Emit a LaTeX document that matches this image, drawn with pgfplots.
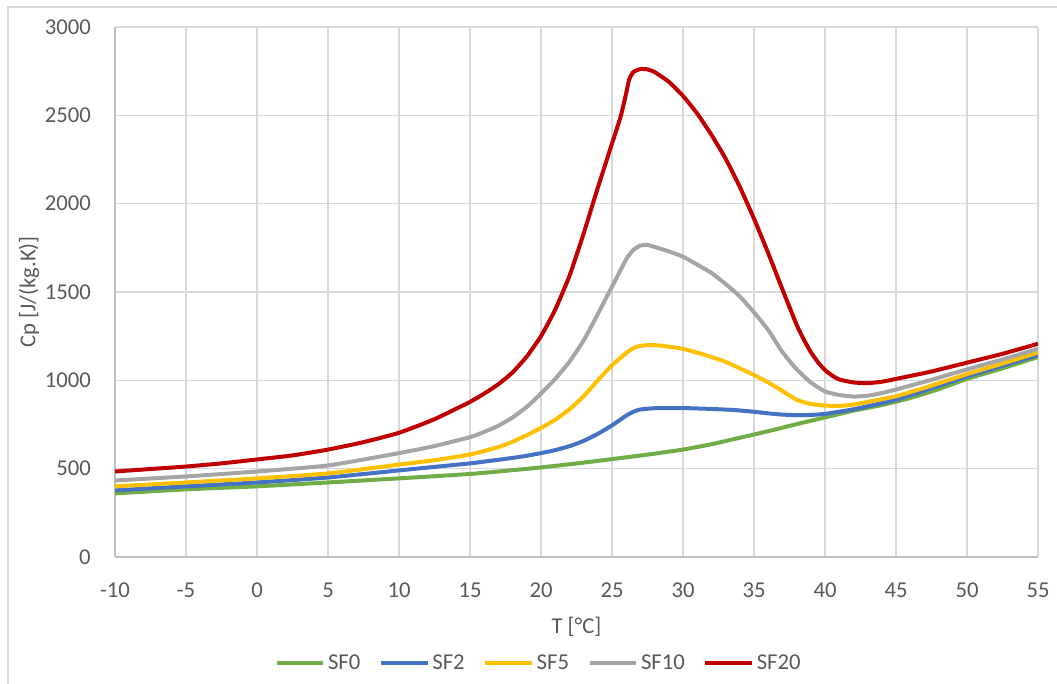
\documentclass[border=0pt]{standalone}
\usepackage{fontspec}
\setmainfont{Carlito}
\usepackage{pgfplots}
\pgfplotsset{compat=1.18}
\usepackage{pgfplotstable}

\definecolor{cGreen}{HTML}{70AD47}
\definecolor{cBlue}{HTML}{4472C4}
\definecolor{cYellow}{HTML}{FFC000}
\definecolor{cGray}{HTML}{A5A5A5}
\definecolor{cRed}{HTML}{C00000}
\definecolor{cGrid}{HTML}{D9D9D9}
\definecolor{cAxis}{HTML}{BFBFBF}
\definecolor{cText}{HTML}{595959}

% Specific heat of the samples, T [°C] vs Cp [J/(kg.K)]
\pgfplotstableread{
T Cp
-10 360
-5 383
0 400
5 422
10 445
15 470
17 484
20 507
22 525
24 544
26 564
28 585
30 608
32 638
34 675
36 712
38 752
40 790
42 828
44 860
46 900
48 950
50 1008
52.5 1068
55 1132
}\sfzero

\pgfplotstableread{
T Cp
-10 377
-5 400
0 422
5 450
10 490
15 530
16 540
17 550
18 561
19 573
20 588
21 605
22 627
23 657
24 697
25 745
26 800
26.5 822
27 835
28 842
30 843
32 838
33.6 832
35 822
36 813
37 806
38 803
39 804
40 810
42 836
45 890
47.5 955
50 1022
52.5 1082
55 1143
}\sftwo

\pgfplotstableread{
T Cp
-10 400
-5 422
0 445
5 473
10 523
12.5 548
15 580
17 622
18 652
19 690
20 730
21 777
22 835
23 910
24 1000
25 1085
26 1155
26.5 1182
27 1195
27.7 1200
28.5 1196
30 1178
31.5 1145
33 1105
34 1068
35 1030
36 988
36.9 945
38 890
39 866
40 857
41 855
42 862
43 878
45 910
47.5 970
50 1035
52.5 1095
55 1157
}\sffive

\pgfplotstableread{
T Cp
-10 433
-5 456
0 484
5 518
10 588
12.5 628
15 678
16 708
17 743
18 790
19 850
20 925
21 1008
22 1105
23 1225
24 1375
25 1530
26 1685
26.5 1738
27 1763
27.5 1766
28 1755
29 1730
30 1700
31 1655
32 1608
33 1545
34 1475
35 1385
36 1285
37 1160
38 1063
39 988
40 937
41 917
42 908
43 913
44 928
45 948
47.5 1003
50 1062
52.5 1118
55 1178
}\sften

\pgfplotstableread{
T Cp
-10 484
-7.5 498
-5 512
-2.5 530
0 552
2.5 575
5 608
7.5 650
10 703
12.5 780
15 878
16 925
17 978
18 1045
19 1135
20 1250
21 1400
22 1590
23 1830
24 2090
25 2340
25.6 2490
26 2625
26.2 2700
26.5 2745
27 2762
27.5 2760
28 2745
29 2690
30 2610
31 2510
32 2390
33 2255
34 2095
35 1915
36 1720
37 1515
38 1315
38.5 1232
39 1160
39.5 1103
40 1058
40.5 1027
41 1005
42 988
43 984
44 992
45 1008
47.5 1050
50 1100
52.5 1150
55 1207
}\sftwenty

\begin{document}
\begin{tikzpicture}[font=\fontsize{17}{20}\selectfont]
\path[use as bounding box] (-86.25pt,-95.25pt) rectangle (706.5pt,417.75pt);
% chart frame
\draw[cGrid, line width=1.2pt] (-80.25pt,-96pt) -- (-80.25pt,412.5pt) -- (707pt,412.5pt);
\begin{axis}[
  at={(0,0)}, anchor=south west,
  scale only axis,
  width=692.25pt, height=397.5pt,
  xmin=-10, xmax=55, ymin=0, ymax=3000,
  xtick={-10,-5,...,55},
  ytick={0,500,...,3000},
  axis x line*=bottom, axis y line*=left,
  axis line style={cAxis, line width=1.1pt},
  major tick length=0pt,
  grid=major,
  major grid style={cGrid, line width=1.1pt},
  tick label style={text=cText},
  /pgf/number format/assume math mode=true,
  /pgf/number format/.cd, 1000 sep={}, /pgfplots/.cd,
  yticklabel style={anchor=east, inner sep=0pt, xshift=-18pt},
  xticklabel style={anchor=north, inner sep=0pt, yshift=-19pt},
  xlabel={T [°C]},
  ylabel={Cp [J/(kg.K)]},
  label style={text=cText},
  xlabel style={at={(axis description cs:0.5,-0.131)}, anchor=center},
  ylabel style={at={(axis description cs:-0.0932,0.5)}, anchor=center},
  legend columns=5,
  legend style={at={(0.4594,-0.2)}, anchor=center, draw=none, fill=none,
    text=cText, font=\fontsize{17}{20}\selectfont,
    /tikz/every even column/.append style={column sep=12pt}},
  legend image code/.code={\draw[#1] (0pt,0pt) -- (35pt,0pt);},
  every axis plot/.append style={line width=3pt, line join=round, smooth, tension=0.3},
]
\addplot[cGreen, no markers] table[x=T,y=Cp] {\sfzero};
\addlegendentry{SF0}
\addplot[cBlue, no markers] table[x=T,y=Cp] {\sftwo};
\addlegendentry{SF2}
\addplot[cYellow, no markers] table[x=T,y=Cp] {\sffive};
\addlegendentry{SF5}
\addplot[cGray, no markers] table[x=T,y=Cp] {\sften};
\addlegendentry{SF10}
\addplot[cRed, no markers] table[x=T,y=Cp] {\sftwenty};
\addlegendentry{SF20}
\end{axis}
\end{tikzpicture}
\end{document}
